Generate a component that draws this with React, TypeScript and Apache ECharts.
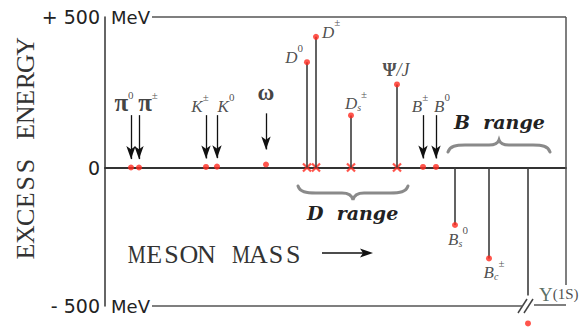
import React, { useEffect, useRef } from "react";
import * as echarts from "echarts";

// ---------- data ----------
const mesons = ["π0", "π±", "K±", "K0", "ω", "D0", "D±", "Ds±", "Ψ/J", "B±", "B0", "Bs0", "Bc±", "Υ(1S)"];
// schematic position along the "meson mass" axis
const massAxisPos = [26, 34, 101, 112, 161, 202, 211, 246, 292, 318, 331, 350, 384, 423];
// excess energy (MeV)
const excessMeV = [0, 0, 2, 3, 10, 350, 434, 173, 276, 2, 2, -191, -302, -518];
// how each meson is marked: arrow pointing at it, or a stem from the zero line
const markerKind = ["arrow", "arrow", "arrow", "arrow", "arrow", "stem", "stem", "stem", "stem", "arrow", "arrow", "stem", "stem", "broken"];

const yTickValues = [500, 0, -460];
const yTickLabels = ["+ 500", "0", "- 500"];
const yMin = -460;
const yMax = 500;
const xMin = 0;
const xMax = 461;

const yTitle = "EXCESS ENERGY";
const xTitle = "MESON MASS";

// ---------- layout constants ----------
const frameStart = 47;
const breakMeV = -425;
const rightFrameEnd = -390;
const arrowTopMeV = 174;
const breakSegStart = 429;
const breakSegEnd = 418;

const RED = "#ff2a1f";
const LINE = "#3c3c3c";
const serif = "Liberation Serif";

echarts.graphic.registerShape(
  "dBrace",
  echarts.graphic.extendPath(
    "M0,0 C2,6 8,7 18,7 L44,7 C50,7 54,9 55,14 C56,9 60,7 66,7 L92,7 C102,7 108,6 110,0",
    {}
  )
);
echarts.graphic.registerShape(
  "bBrace",
  echarts.graphic.extendPath(
    "M0,12 C2,6 8,5 17,5 L41,5 C47,5 50,3 51,0 C52,3 55,5 61,5 L85,5 C94,5 100,6 102,12",
    {}
  )
);

// typewriter-like text: one glyph per fixed-width cell
function monoText(text: string, pitch: number, fontSize: number) {
  const n = text.length;
  const start = (-n * pitch) / 2 + pitch / 2;
  return text.split("").map((ch, i) => ({
    type: "text",
    x: start + i * pitch,
    y: 0,
    scaleX: ch === "M" ? 0.78 : 1.0,
    style: { text: ch, fontFamily: serif, fontSize, fill: "#333", align: "center", verticalAlign: "middle" },
  }));
}

const labelCfg: Record<number, any> = {
  0: { formatter: "{pi|π}{sup|0}", position: "top", distance: 0, offset: [-7, 0] },
  1: { formatter: "{pi|π}{sup|±}", position: "top", distance: 0, offset: [9, 0] },
  2: { formatter: "{it|K}{sup|±}", position: "top", distance: 0, offset: [-6, 0] },
  3: { formatter: "{it|K}{sup|0}", position: "top", distance: 0, offset: [9, 0] },
  4: { formatter: "{om|ω}", position: "top", distance: 0, offset: [0, -10] },
  9: { formatter: "{it|B}{sup|±}", position: "top", distance: 0, offset: [-3, 0] },
  10: { formatter: "{it|B}{sup|0}", position: "top", distance: 0, offset: [6, 0] },
  5: { formatter: "{it|D}{sup|0}", position: "left", distance: 1, offset: [0, -8] },
  6: { formatter: "{it|D}{sup|±}", position: "right", distance: 3, offset: [0, -8] },
  7: { formatter: "{it|D}{sub|s}{sup|±}", position: "top", distance: 0, offset: [5, 0] },
  8: { formatter: "{psi|Ψ}{itb|/J}", position: "top", distance: 2, offset: [-1, 0] },
  11: { formatter: "{it|B}{sub|s}{sup|0}", position: "bottom", distance: 0, offset: [3, -4] },
  12: { formatter: "{it|B}{sub|c}{sup|±}", position: "bottom", distance: 0, offset: [5, -4] },
  13: { formatter: "{ups|Υ}{rm|(1S)}", position: "right", distance: 5, offset: [3, -29] },
};

const rich = {
  pi: { fontFamily: serif, fontWeight: "bold", fontSize: 25, lineHeight: 26, verticalAlign: "bottom", color: "#111" },
  om: { fontFamily: serif, fontWeight: "bold", fontSize: 23, lineHeight: 22, color: "#111" },
  it: { fontFamily: serif, fontStyle: "italic", fontSize: 17, lineHeight: 24, verticalAlign: "bottom", color: "#222" },
  itb: { fontFamily: serif, fontStyle: "italic", fontSize: 18, lineHeight: 20, verticalAlign: "bottom", color: "#222" },
  psi: { fontFamily: serif, fontWeight: "bold", fontSize: 18, lineHeight: 20, verticalAlign: "bottom", color: "#222" },
  sup: { fontFamily: serif, fontSize: 11, lineHeight: 11, verticalAlign: "top", color: "#222" },
  sub: { fontFamily: serif, fontStyle: "italic", fontSize: 10, lineHeight: 10, verticalAlign: "bottom", color: "#222" },
  ups: { fontFamily: serif, fontSize: 19, lineHeight: 20, color: "#2f4a3c" },
  rm: { fontFamily: serif, fontSize: 15, lineHeight: 20, color: "#222" },
};

export default function App() {
  const ref = useRef<HTMLDivElement>(null);
  useEffect(() => {
    if (!ref.current) return;
    const chart = echarts.init(ref.current, null, { renderer: "svg" });

    const idx = mesons.map((_, i) => i);
    const stemLines = idx
      .filter((i) => markerKind[i] !== "arrow")
      .map((i) => [
        { coord: [massAxisPos[i], 0] },
        { coord: [massAxisPos[i], markerKind[i] === "broken" ? breakMeV : excessMeV[i]] },
      ]);
    const arrowLines = idx
      .filter((i) => markerKind[i] === "arrow")
      .map((i) => [
        { coord: [massAxisPos[i], i === 4 ? arrowTopMeV + 6 : arrowTopMeV] },
        { coord: [massAxisPos[i], excessMeV[i] + (i === 4 ? 50 : 28)] },
      ]);
    const crosses = idx
      .filter((i) => markerKind[i] === "stem" && excessMeV[i] > 0)
      .map((i) => [massAxisPos[i], 0]);

    const dots = idx.map((i) => {
      const cfg = labelCfg[i];
      const item: any = { value: [massAxisPos[i], excessMeV[i]], name: mesons[i] };
      if (cfg && markerKind[i] !== "arrow") {
        item.label = { show: true, ...cfg, rich };
      }
      return item;
    });
    const arrowLabels = idx
      .filter((i) => markerKind[i] === "arrow")
      .map((i) => ({
        value: [massAxisPos[i], i === 4 ? arrowTopMeV + 6 : arrowTopMeV],
        name: mesons[i],
        label: { show: true, ...labelCfg[i], rich },
      }));

    const mevLabel = { show: true, position: "start", formatter: "MeV", distance: 2, fontFamily: "DejaVu Sans", fontSize: 18, color: "#222" };

    const option: any = {
      animation: false,
      grid: { left: 105, right: 22, top: 17, bottom: 26 },
      xAxis: {
        type: "value",
        min: xMin,
        max: xMax,
        axisLine: { onZero: true, lineStyle: { color: "#333", width: 2 } },
        axisTick: { show: false },
        axisLabel: { show: false },
        splitLine: { show: false },
      },
      yAxis: {
        type: "value",
        min: yMin,
        max: yMax,
        axisLine: { show: true, lineStyle: { color: "#333", width: 1.5 } },
        axisTick: { show: false },
        splitLine: { show: false },
        axisLabel: {
          customValues: yTickValues,
          formatter: (v: number) => yTickLabels[yTickValues.indexOf(v)] ?? "",
          fontFamily: "DejaVu Sans",
          fontSize: 19,
          color: "#222",
          margin: 5,
        },
      },
      series: [
        {
          type: "line",
          name: "frame",
          data: [[xMin, 0]],
          symbol: "none",
          silent: true,
          markLine: {
            silent: true,
            symbol: "none",
            lineStyle: { color: "#555", width: 1.5, type: "solid" },
            label: { show: false },
            data: [
              [{ coord: [frameStart, yMax], label: mevLabel }, { coord: [xMax, yMax] }],
              [{ coord: [xMax, yMax] }, { coord: [xMax, rightFrameEnd] }],
              [{ coord: [frameStart, yMin], label: mevLabel }, { coord: [breakSegEnd, yMin] }],
              [{ coord: [breakSegStart, yMin + 5] }, { coord: [xMax, yMin + 5] }],
            ],
          },
        },
        {
          type: "line",
          name: "stems",
          data: [[xMin, 0]],
          symbol: "none",
          silent: true,
          markLine: {
            silent: true,
            symbol: "none",
            lineStyle: { color: LINE, width: 1.6, type: "solid" },
            label: { show: false },
            data: stemLines,
          },
        },
        {
          type: "line",
          name: "arrows",
          data: [[xMin, 0]],
          symbol: "none",
          silent: true,
          markLine: {
            silent: true,
            symbol: ["none", "arrow"],
            symbolSize: [7, 13],
            lineStyle: { color: "#111", width: 1.3, type: "solid" },
            itemStyle: { color: "#111" },
            label: { show: false },
            data: arrowLines,
          },
        },
        {
          type: "scatter",
          name: "crosses",
          data: crosses,
          symbol: "path://M0,0L10,10M10,0L0,10",
          symbolSize: 8,
          itemStyle: { color: "none", borderColor: RED, borderWidth: 2.2 },
          silent: true,
          z: 4,
        },
        {
          type: "scatter",
          name: "mesons",
          data: dots,
          symbolSize: 6,
          itemStyle: { color: RED },
          clip: false,
          silent: true,
          z: 5,
        },
        {
          type: "scatter",
          name: "arrowLabels",
          data: arrowLabels,
          symbolSize: 0,
          silent: true,
          z: 5,
        },
      ],
      graphic: [
        { type: "group", x: 25, y: 149, rotation: Math.PI / 2, children: monoText(yTitle, 17.1, 26) },
        { type: "group", x: 215, y: 254, children: monoText(xTitle, 17.4, 26) },
        { type: "line", shape: { x1: 322, y1: 253, x2: 366, y2: 253 }, style: { stroke: "#111", lineWidth: 1.5 } },
        { type: "polygon", shape: { points: [[373, 253], [360, 248.5], [363, 253], [360, 257.5]] }, style: { fill: "#111" } },
        { type: "line", shape: { x1: 518, y1: 313, x2: 527, y2: 299 }, style: { stroke: "#444", lineWidth: 1.5 } },
        { type: "line", shape: { x1: 524, y1: 313, x2: 533, y2: 299 }, style: { stroke: "#444", lineWidth: 1.5 } },
        { type: "dBrace", x: 298, y: 186, style: { stroke: "#8a8a8a", fill: "none", lineWidth: 3, lineCap: "round" } },
        { type: "bBrace", x: 448, y: 140, style: { stroke: "#8a8a8a", fill: "none", lineWidth: 3, lineCap: "round" } },
        {
          type: "text",
          x: 307,
          y: 222,
          style: { text: "D  range", fontFamily: "DejaVu Serif", fontStyle: "italic", fontWeight: "bold", fontSize: 19, fill: "#222", verticalAlign: "bottom" },
        },
        {
          type: "text",
          x: 454,
          y: 131,
          style: { text: "B  range", fontFamily: "DejaVu Serif", fontStyle: "italic", fontWeight: "bold", fontSize: 19, fill: "#222", verticalAlign: "bottom" },
        },
      ],
    };
    chart.setOption(option);
    return () => chart.dispose();
  }, []);
  return <div ref={ref} style={{ position: "absolute", left: 0, top: 0, width: 588, height: 332, background: "#fff" }} />;
}
